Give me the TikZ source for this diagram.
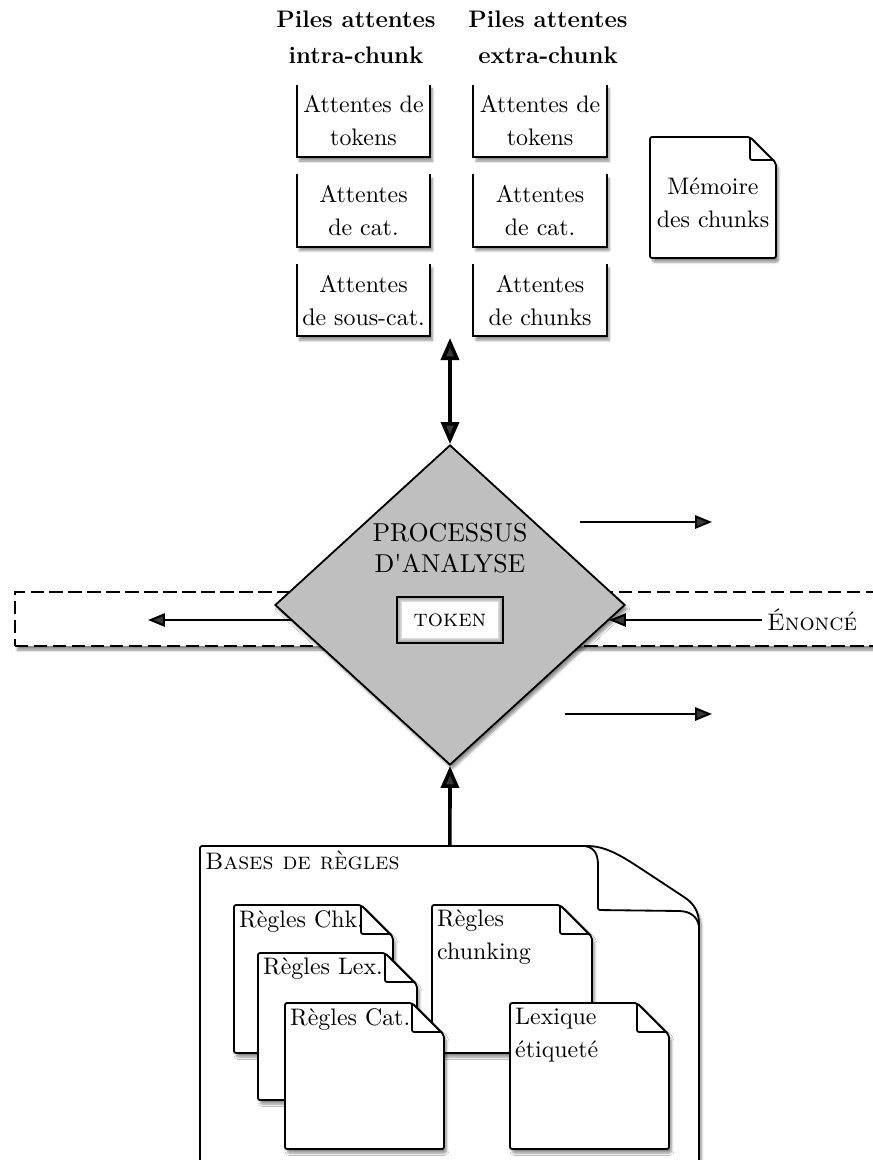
\documentclass[tikz,border=0pt]{standalone}
\usepackage{fontspec}
\setmainfont{lmroman10}[Extension=.otf, UprightFont=*-regular, BoldFont=lmroman12-bold,
    SmallCapsFont=lmromancaps10-regular]
\usepackage{tikz}
\usetikzlibrary{shapes.geometric, arrows.meta, positioning, shadows.blur}

\newcommand{\grand}{\fontsize{17}{23.5}\selectfont}
% feuille a coin corne : x, y, largeur, hauteur, coin
\newcommand{\papier}[5]{%
  \draw[feuille, ombre] (#1,#2) -- ({#1+#3-#5},#2) -- ({#1+#3},{#2+#5}) -- ({#1+#3},{#2+#4}) -- (#1,{#2+#4}) -- cycle;
  \draw[feuille, fill=none] ({#1+#3-#5},#2) -- ({#1+#3-#5},{#2+#5-3}) -- ({#1+#3-2},{#2+#5-3});
}

\begin{document}
\begin{tikzpicture}[
        x=0.025cm, y=-0.025cm,
        node distance=4.25mm and 10.75mm,
        every node/.style={font=\grand},
        ombre/.style={blur shadow={shadow xshift=0.6mm, shadow yshift=-1mm, shadow opacity=45, shadow blur steps=6}},
        entete/.style={font=\grand\bfseries, align=center},
        pile/.style={rectangle, fill=white, ombre, minimum width=3.325cm,
                    minimum height=1.8cm, inner sep=1pt, align=center},
        cote/.style={line width=1.4pt},
        feuille/.style={line width=1.3pt, fill=white, rounded corners=1.5pt},
        texte/.style={anchor=north west, align=left, inner sep=3.5pt},
        losange/.style={diamond, draw, line width=1.3pt, fill=black!25, minimum width=8.75cm,
                    minimum height=8cm, inner sep=0pt, ombre},
        jeton/.style={rectangle, draw, fill=white, line width=1.4pt, minimum width=2.65cm,
                    minimum height=1.15cm,
                    path picture={\foreach \i in {1,...,6}
                        \draw[black, opacity=0.07, line width=\i*1.3pt]
                        (path picture bounding box.south west) rectangle (path picture bounding box.north east);}},
        bande/.style={rectangle, draw, dash pattern=on 9.5pt off 4pt, line width=1.3pt, fill=white,
                    minimum width=21.75cm, minimum height=1.35cm, ombre},
        grosse/.style={line width=2.6pt, >={Triangle[length=5.5mm, width=4.5mm]}, ->},
        fine/.style={line width=1.4pt, -{Triangle[length=4.2mm, width=3.3mm]}}
    ]
    \useasboundingbox (0,0) rectangle (873,1160);

    % Piles d'attentes
    \node[entete] (hintra) at (356,37) {Piles attentes\\[2pt]intra-chunk};
    \node[entete] (hextra) at (548,37) {Piles attentes\\[2pt]extra-chunk};
    \node[pile] (itok) at (363.5,121) {Attentes de\\tokens};
    \node[pile, below=of itok] (icat) {Attentes\\de cat.};
    \node[pile, below=of icat] (isous) {Attentes\\de sous-cat.};
    \node[pile, right=of itok] (etok) {Attentes de\\tokens};
    \node[pile, below=of etok] (ecat) {Attentes\\de cat.};
    \node[pile, below=of ecat] (echk) {Attentes\\de chunks};
    \foreach \p in {itok,icat,isous,etok,ecat,echk}
        \draw[cote] (\p.north west) -- (\p.south west) -- (\p.south east) -- (\p.north east);

    % Memoire
    \papier{650}{137}{126}{121}{26}
    \node[align=center] (mem) at (713,203) {Mémoire\\des chunks};

    % Enonce
    \node[bande] (flux) at (450,619) {};
    \node (enonce) at (812,620) {\textsc{Énoncé}};
    \coordinate (entree) at (609,620);
    \coordinate (milieu) at (450,620);
    \coordinate (sortie) at (148,620);
    \draw[fine] (enonce) -- (entree);
    \draw[fine] (milieu) -- (sortie);

    % Processus
    \node[losange] (proc) at (450,605) {};
    \node[align=center, font=\fontsize{18.4}{22}\selectfont] (titre) at (450,548) {PROCESSUS\\D\textquotesingle ANALYSE};
    \node[jeton] (tok) at (450,620) {\textsc{token}};
    \coordinate (pbas) at (450,338);
    \draw[grosse, <->] (pbas) -- (proc.north);
    \coordinate (h1) at (580,522); \coordinate (h2) at (712,522);
    \coordinate (b1) at (565,714); \coordinate (b2) at (712,714);
    \draw[fine] (h1) -- (h2);
    \draw[fine] (b1) -- (b2);

    % Bases de regles
    \draw[feuille, ombre] (200,846) -- (585,846) .. controls (605,846) and (620,855) .. (640,868)
        -- (684,897) .. controls (694,904) and (699,912) .. (699,926) -- (699,1180) -- (200,1180) -- cycle;
    \draw[feuille, fill=none] (585,846) .. controls (596,848) and (598,856) .. (598,868) -- (598,910)
        -- (680,911) .. controls (690,912) and (697,916) .. (699,926);
    \node[anchor=north west, minimum width=12.475cm, minimum height=8.25cm, inner sep=0pt,
        label={[texte]north west:\textsc{Bases de règles}}] (bases) at (200,846) {};
    \draw[grosse] (bases.north) -- (proc.south);

    \papier{234}{905}{159}{148}{32}
    \node[texte] (chk) at (234,905) {Règles Chk.};
    \papier{432}{905}{160}{148}{32}
    \node[texte] (chunk) at (432,905) {Règles\\chunking};
    \papier{258}{953}{159}{147}{32}
    \node[texte] (lex) at (258,953) {Règles Lex.};
    \papier{285}{1003}{159}{146}{32}
    \node[texte] (cat) at (285,1003) {Règles Cat.};
    \papier{510}{1003}{159}{146}{32}
    \node[texte] (lexique) at (510,1003) {Lexique\\étiqueté};
\end{tikzpicture}
\end{document}
